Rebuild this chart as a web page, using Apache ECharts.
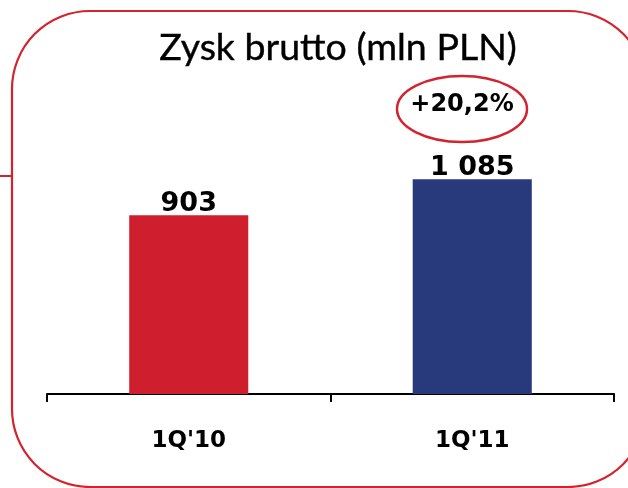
<!DOCTYPE html>
<html>
<head>
<meta charset="utf-8">
<script src="https://cdn.jsdelivr.net/npm/echarts@6/dist/echarts.min.js"></script>
<style>
  html, body { margin: 0; padding: 0; background: #fff; }
  #chart { width: 628px; height: 488px; }
</style>
</head>
<body>
<div id="chart"></div>
<script>
const categories = ["1Q'10", "1Q'11"];
const profit = [903, 1085];
const barColors = ["#cf1e2e", "#283a7b"];
const titleText = "Zysk brutto (mln PLN)";

const fmt = (v) => String(v).replace(/\B(?=(\d{3})+(?!\d))/g, " ");
const growth = ((profit[1] / profit[0] - 1) * 100).toFixed(1).replace(".", ",");

const chart = echarts.init(document.getElementById("chart"));

chart.setOption({
  animation: false,
  title: {
    text: titleText,
    left: 333,
    top: 24,
    textAlign: "center",
    textStyle: { fontFamily: "Lato", fontWeight: "normal", fontSize: 37.5, color: "#000",
      textBorderColor: "#000", textBorderWidth: 0.4 },
  },
  grid: { left: 47, right: 14, top: 97, bottom: 94 },
  xAxis: {
    type: "category",
    data: categories,
    axisLine: { lineStyle: { color: "#000", width: 2 } },
    axisTick: { show: true, length: 8, lineStyle: { color: "#000", width: 2 } },
    axisLabel: {
      margin: 36,
      color: "#000",
      fontFamily: "DejaVu Sans",
      fontWeight: "bold",
      fontSize: 23,
    },
  },
  yAxis: { type: "value", min: 0, max: 1500, show: false, splitLine: { show: false } },
  series: [
    {
      type: "bar",
      barWidth: "42%",
      data: profit.map((v, i) => ({ value: v, itemStyle: { color: barColors[i] } })),
      label: {
        show: true,
        position: "top",
        distance: -2,
        formatter: (p) => fmt(p.value),
        color: "#000",
        fontFamily: "DejaVu Sans",
        fontWeight: "bold",
        fontSize: 27,
      },
    },
  ],
  graphic: [
    {
      type: "rect",
      shape: { x: 12, y: 11, width: 634, height: 476, r: 78 },
      style: { fill: "none", stroke: "#d2232f", lineWidth: 2.2 },
      silent: true,
    },
    {
      type: "line",
      shape: { x1: 0, y1: 176, x2: 11, y2: 176 },
      style: { stroke: "#d2232f", lineWidth: 2 },
      silent: true,
    },
    {
      type: "ellipse",
      shape: { cx: 462, cy: 109, rx: 65, ry: 33 },
      style: { fill: "none", stroke: "#d2232f", lineWidth: 2.5 },
      silent: true,
    },
    {
      type: "text",
      x: 462,
      y: 105,
      style: {
        text: "+" + growth + "%",
        align: "center",
        verticalAlign: "middle",
        fill: "#000",
        font: "bold 24px 'DejaVu Sans'",
      },
      silent: true,
    },
  ],
});
</script>
</body>
</html>
